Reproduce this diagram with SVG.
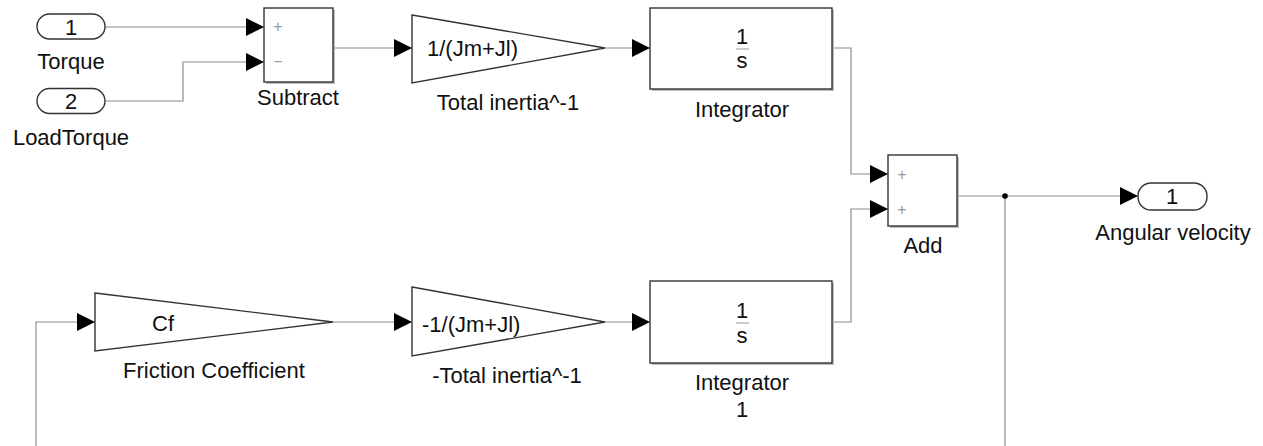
<svg xmlns="http://www.w3.org/2000/svg" width="1263" height="446" viewBox="0 0 1263 446">
<defs>
<style>
.blk{fill:#fff;stroke:#333;stroke-width:1.4}
.shd{fill:#bdbdbd;stroke:none}
.ln{fill:none;stroke:#8c8c8c;stroke-width:1.2}
.t{font-family:"Liberation Sans",Arial,sans-serif;font-size:22px;fill:#111}
.c{text-anchor:middle}
.sg{font-family:"Liberation Sans",Arial,sans-serif;font-size:16px;fill:#999}
.bar{stroke:#999;stroke-width:1}
</style>
<marker id="arr" markerUnits="userSpaceOnUse" markerWidth="19" markerHeight="19" refX="18" refY="9" orient="auto">
<path d="M0,0 L18,9 L0,18 Z" fill="#000"/>
</marker>
</defs>
<rect width="1263" height="446" fill="#fff"/>
<g id="connectors">
<path class="ln" d="M105,27 H264" marker-end="url(#arr)"/>
<path class="ln" d="M105,101 H183 V62 H264" marker-end="url(#arr)"/>
<path class="ln" d="M333,48 H412" marker-end="url(#arr)"/>
<path class="ln" d="M605,48 H650" marker-end="url(#arr)"/>
<path class="ln" d="M832,48 H851 V174 H888" marker-end="url(#arr)"/>
<path class="ln" d="M957,196 H1138" marker-end="url(#arr)"/>
<path class="ln" d="M1005,196 V446"/>
<path class="ln" d="M36,446 V322 H95" marker-end="url(#arr)"/>
<path class="ln" d="M333,322 H412" marker-end="url(#arr)"/>
<path class="ln" d="M605,322 H650" marker-end="url(#arr)"/>
<path class="ln" d="M832,322 H851 V209 H888" marker-end="url(#arr)"/>
<circle cx="1005" cy="196" r="2.8" fill="#000"/>
</g>
<g id="inport1">
<rect class="blk" x="37" y="14" width="68" height="25" rx="12.5"/>
<text class="t c" x="71" y="34.5">1</text>
<text class="t c" x="71" y="69">Torque</text>
</g>
<g id="inport2">
<rect class="blk" x="37" y="88.5" width="68" height="25" rx="12.5"/>
<text class="t c" x="71" y="109">2</text>
<text class="t c" x="71" y="145">LoadTorque</text>
</g>
<g id="subtract">
<rect class="shd" x="266" y="10" width="69" height="74"/>
<rect class="blk" x="264" y="8" width="69" height="74"/>
<text class="sg c" x="278" y="32">+</text>
<text class="sg c" x="278" y="67">−</text>
<text class="t c" x="298" y="105">Subtract</text>
</g>
<g id="gain1">
<polygon class="blk" points="412,15 605,48 412,83"/>
<text class="t" x="427" y="56">1/(Jm+Jl)</text>
<text class="t c" x="508" y="110">Total inertia^-1</text>
</g>
<g id="integrator">
<rect class="shd" x="652" y="10" width="182" height="81"/>
<rect class="blk" x="650" y="8" width="182" height="81"/>
<text class="t c" x="742" y="44">1</text>
<line class="bar" x1="736" y1="49" x2="749" y2="49"/>
<text class="t c" x="742" y="68">s</text>
<text class="t c" x="742" y="117">Integrator</text>
</g>
<g id="add">
<rect class="shd" x="890" y="157" width="69" height="71"/>
<rect class="blk" x="888" y="155" width="69" height="71"/>
<text class="sg c" x="902" y="180">+</text>
<text class="sg c" x="902" y="215">+</text>
<text class="t c" x="923" y="253">Add</text>
</g>
<g id="outport1">
<rect class="blk" x="1138" y="183" width="69" height="27" rx="13"/>
<text class="t c" x="1172" y="204">1</text>
<text class="t c" x="1173" y="240">Angular velocity</text>
</g>
<g id="friction">
<polygon class="blk" points="95,293 333,322 95,351"/>
<text class="t" x="152" y="331">Cf</text>
<text class="t c" x="214" y="378">Friction Coefficient</text>
</g>
<g id="gain2">
<polygon class="blk" points="412,287 605,322 412,356"/>
<text class="t" x="422" y="332">-1/(Jm+Jl)</text>
<text class="t c" x="507" y="383">-Total inertia^-1</text>
</g>
<g id="integrator1">
<rect class="shd" x="652" y="283" width="182" height="82"/>
<rect class="blk" x="650" y="281" width="182" height="82"/>
<text class="t c" x="742" y="318">1</text>
<line class="bar" x1="736" y1="323" x2="749" y2="323"/>
<text class="t c" x="742" y="343">s</text>
<text class="t c" x="742" y="390">Integrator</text>
<text class="t c" x="742" y="417">1</text>
</g>
</svg>
